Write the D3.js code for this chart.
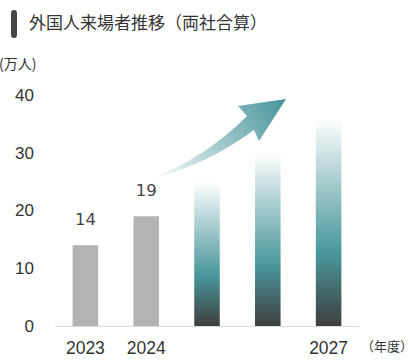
<!DOCTYPE html>
<html><head><meta charset="utf-8">
<script src="https://cdn.jsdelivr.net/npm/d3@7"></script>
<style>
html,body{margin:0;padding:0;background:#fff;}
svg{display:block;}
</style></head>
<body>
<svg id="chart" width="415" height="360"></svg>
<script>
const categories = ["2023","2024","2025","2026","2027"];
const values = [14, 19, 25, 30, 36];
const actual = [true, true, false, false, false];
const valueLabels = ["14","19","","",""];
const tickLabels = ["2023","2024","","","2027"];
const yTicks = [0,10,20,30,40];
const title = "外国人来場者推移（両社合算）";
const yUnit = "(万人)";
const xUnit = "（年度）";

const svg = d3.select("#chart");
const defs = svg.append("defs");

const x = d3.scaleBand().domain(categories).range([55, 359]).paddingInner(0.58).paddingOuter(0.29);
const y = d3.scaleLinear().domain([0, 40]).range([326, 95]);

// gradients
const bg = defs.append("linearGradient").attr("id","barGrad")
  .attr("x1",0).attr("y1",1).attr("x2",0).attr("y2",0);
bg.append("stop").attr("offset","0").attr("stop-color","#3e3e3e");
bg.append("stop").attr("offset","0.35").attr("stop-color","#48979c");
bg.append("stop").attr("offset","0.7").attr("stop-color","#a9cdd0");
bg.append("stop").attr("offset","1").attr("stop-color","#ffffff");

const ag = defs.append("linearGradient").attr("id","arrowGrad")
  .attr("gradientUnits","userSpaceOnUse")
  .attr("x1",150).attr("y1",175).attr("x2",286).attr("y2",105);
ag.append("stop").attr("offset","0").attr("stop-color","#ffffff");
ag.append("stop").attr("offset","0.15").attr("stop-color","#e2eeef");
ag.append("stop").attr("offset","1").attr("stop-color","#47959a");

// title
svg.append("rect").attr("x",11).attr("y",10).attr("width",6).attr("height",28).attr("rx",3)
  .attr("fill","#444");
svg.append("text").attr("x",29).attr("y",29)
  .attr("font-family","'Noto Sans CJK JP', sans-serif").attr("font-size",17)
  .attr("fill","#333").text(title);

// y unit
svg.append("text").attr("x",-1).attr("y",69)
  .attr("font-family","'Noto Sans CJK JP', sans-serif").attr("font-size",14)
  .attr("fill","#333").text(yUnit);

// y tick labels
svg.append("g").selectAll("text").data(yTicks).join("text")
  .attr("x",34).attr("y",d=>y(d)).attr("dy","0.35em")
  .attr("text-anchor","end")
  .attr("font-family","'Liberation Sans', Arial, sans-serif").attr("font-size",17)
  .attr("fill","#333").text(d=>d);

// bars
svg.append("g").selectAll("rect").data(categories).join("rect")
  .attr("x",d=>x(d)).attr("width",x.bandwidth())
  .attr("y",(d,i)=>y(values[i])).attr("height",(d,i)=>y(0)-y(values[i]))
  .attr("fill",(d,i)=>actual[i] ? "#b3b3b3" : "url(#barGrad)");

// axis line
svg.append("line").attr("x1",55).attr("x2",359).attr("y1",326.5).attr("y2",326.5)
  .attr("stroke","#dddddd").attr("stroke-width",1);

// value labels
svg.append("g").selectAll("text").data(categories).join("text")
  .attr("x",d=>x(d)+x.bandwidth()/2).attr("y",(d,i)=>y(values[i])-20)
  .attr("text-anchor","middle")
  .attr("font-family","'DejaVu Sans', sans-serif").attr("font-size",16.5)
  .attr("fill","#444").text((d,i)=>valueLabels[i]);

// x tick labels
svg.append("g").selectAll("text").data(categories).join("text")
  .attr("x",d=>x(d)+x.bandwidth()/2).attr("y",354)
  .attr("text-anchor","middle")
  .attr("font-family","'Liberation Sans', Arial, sans-serif").attr("font-size",17.5)
  .attr("fill","#333").text((d,i)=>tickLabels[i]);

// x unit
svg.append("text").attr("x",361).attr("y",351)
  .attr("font-family","'Noto Sans CJK JP', sans-serif").attr("font-size",13)
  .attr("fill","#333").text(xUnit);

// arrow
svg.append("path")
  .attr("d","M150,179 Q205,158 247,116 L238,106 L286,99 L259,141 L254,130 Q205,166 150,179 Z")
  .attr("fill","url(#arrowGrad)");
</script>
</body></html>
